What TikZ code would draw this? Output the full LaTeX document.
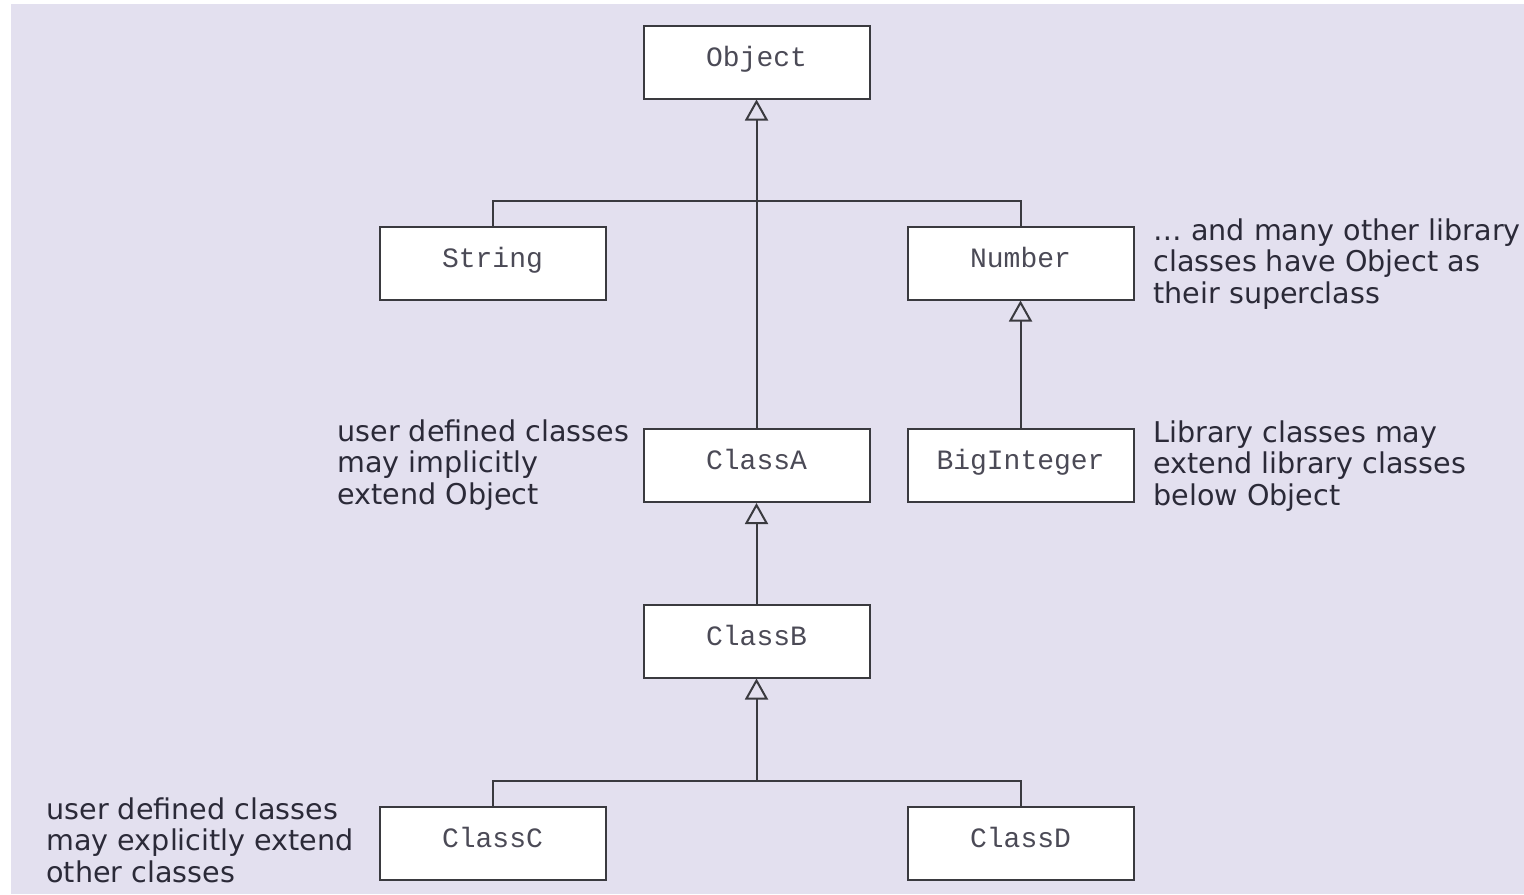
\documentclass[tikz,border=0pt]{standalone}
\usepackage{fontspec}
\setmainfont{DejaVu Sans}
\setmonofont{Liberation Mono}
\usetikzlibrary{arrows.meta}

\definecolor{panel}{HTML}{E3E0EF}
\definecolor{ink}{HTML}{2B2A38}
\definecolor{edge}{HTML}{3A3A3F}

\tikzset{
  classbox/.style={draw=edge, line width=1pt, fill=white,
    minimum width=113pt, minimum height=36.5pt, inner sep=0pt,
    text height=8pt, text depth=4pt,
    font=\fontsize{14pt}{16pt}\ttfamily, text=ink!85},
  note/.style={anchor=north west, inner sep=0pt, align=left,
    font=\fontsize{14.3pt}{15.8pt}\selectfont, text=ink},
  link/.style={draw=edge, line width=1pt},
  inherits/.style={link, -{Triangle[open, length=10.5pt, width=11.5pt, line width=1pt]}}
}

\begin{document}
\begin{tikzpicture}[x=0.5pt, y=-0.5pt]
  \useasboundingbox (0,0) rectangle (1524,894);
  \fill[panel] (11,4) rectangle (1524,894);

  % class hierarchy
  \node[classbox] (Object)     at (756.5, 62)  {Object};
  \node[classbox] (String)     at (492.5, 263) {String};
  \node[classbox] (Number)     at (1020.5,263) {Number};
  \node[classbox] (ClassA)     at (756.5, 465.5) {ClassA};
  \node[classbox] (BigInteger) at (1020.5,465.5) {BigInteger};
  \node[classbox] (ClassB)     at (756.5, 641) {ClassB};
  \node[classbox] (ClassC)     at (492.5, 843) {ClassC};
  \node[classbox] (ClassD)     at (1020.5,843) {ClassD};

  % junctions of the shared generalisation bars
  \coordinate (topbar) at (756.5, 201);
  \coordinate (botbar) at (756.5, 781);

  % generalisation connectors
  \draw[inherits] (ClassA.north) -- (Object.south);
  \draw[link] (String.north) |- (topbar) -| (Number.north);
  \draw[inherits] (BigInteger.north) -- (Number.south);
  \draw[inherits] (ClassB.north) -- (ClassA.south);
  \draw[inherits] (botbar) -- (ClassB.south);
  \draw[link] (ClassC.north) |- (botbar) -| (ClassD.north);

  % annotations
  \node[note] (noteLib) at (1153, 218)
    {\dots\ and many other library\\classes have Object as\\their superclass};
  \node[note] (noteImplicit) at (337, 419)
    {user defined classes\\may implicitly\\extend Object};
  \node[note] (noteExtend) at (1153, 420)
    {Library classes may\\extend library classes\\below Object};
  \node[note] (noteExplicit) at (46, 797)
    {user defined classes\\may explicitly extend\\other classes};
\end{tikzpicture}
\end{document}
